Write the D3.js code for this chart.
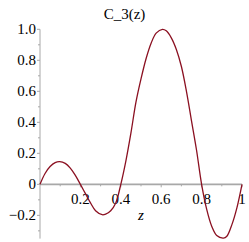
<!DOCTYPE html>
<html><head><meta charset="utf-8">
<script src="https://cdn.jsdelivr.net/npm/d3@7"></script>
<style>html,body{margin:0;padding:0;background:#fff;overflow:hidden}</style>
</head><body>
<svg id="c" width="249" height="242"></svg>
<script>
const titleText = "C_3(z)";
const xLabel = "z";
const zValues = [0,0.025,0.05,0.075,0.0975,0.125,0.15,0.175,0.2,0.225,0.25,0.275,0.308,0.325,0.35,0.375,0.4,0.425,0.45,0.475,0.5,0.525,0.55,0.575,0.606,0.625,0.65,0.675,0.7,0.725,0.75,0.775,0.8,0.825,0.85,0.875,0.908,0.925,0.95,0.975,1];
const cValues = [0,0.07,0.115,0.14,0.146,0.135,0.105,0.058,0,-0.06,-0.12,-0.17,-0.196,-0.192,-0.17,-0.12,0,0.15,0.33,0.53,0.68,0.81,0.91,0.975,1.0,0.99,0.945,0.87,0.76,0.6,0.41,0.22,0,-0.16,-0.27,-0.33,-0.347,-0.335,-0.26,-0.15,0];
const xMajorTicks = [0.2,0.4,0.6,0.8,1];
const xTickLabels = ["0.2","0.4","0.6","0.8","1"];
const xMinorTicks = [0.1,0.3,0.5,0.7,0.9];
const yMajorTicks = [-0.2,0,0.2,0.4,0.6,0.8,1.0];
const yTickLabels = ["\u22120.2","0","0.2","0.4","0.6","0.8","1.0"];
const yMinorTicks = [-0.3,-0.1,0.1,0.3,0.5,0.7,0.9];

const svg = d3.select("#c");
const x = d3.scaleLinear().domain([0,1]).range([40,242]);
const y = d3.scaleLinear().domain([-0.35,1]).range([238.6,29.3]);
const fs = 15;
const ff = "Liberation Serif";
const axisColor = "#a8a8a8";

svg.append("text").attr("x",124.5).attr("y",19).attr("text-anchor","middle")
  .attr("font-family",ff).attr("font-size",fs).attr("fill","#000").text(titleText);

svg.append("line").attr("x1",x(0)).attr("x2",x(0)).attr("y1",y(1)).attr("y2",y(-0.35))
  .attr("stroke",axisColor).attr("stroke-width",1);
yMajorTicks.forEach((v,i)=>{
  svg.append("line").attr("x1",x(0)-3).attr("x2",x(0)).attr("y1",y(v)).attr("y2",y(v))
    .attr("stroke",axisColor).attr("stroke-width",1);
  svg.append("text").attr("x",x(0)-4).attr("y",y(v)).attr("dy","0.33em")
    .attr("text-anchor","end").attr("font-family",ff).attr("font-size",fs)
    .attr("fill","#000").text(yTickLabels[i]);
});
yMinorTicks.forEach(v=>{
  svg.append("line").attr("x1",x(0)-2).attr("x2",x(0)).attr("y1",y(v)).attr("y2",y(v))
    .attr("stroke",axisColor).attr("stroke-width",1);
});

svg.append("line").attr("x1",x(0)).attr("x2",x(1)).attr("y1",y(0)).attr("y2",y(0))
  .attr("stroke",axisColor).attr("stroke-width",1.6);
xMinorTicks.forEach(v=>{
  svg.append("line").attr("x1",x(v)).attr("x2",x(v)).attr("y1",y(0)).attr("y2",y(0)+2)
    .attr("stroke",axisColor).attr("stroke-width",1);
});
xMajorTicks.forEach((v,i)=>{
  svg.append("line").attr("x1",x(v)).attr("x2",x(v)).attr("y1",y(0)).attr("y2",y(0)+3)
    .attr("stroke",axisColor).attr("stroke-width",1);
  svg.append("text").attr("x",x(v)).attr("y",y(0)+20)
    .attr("text-anchor","middle").attr("font-family",ff).attr("font-size",fs)
    .attr("fill","#000").text(xTickLabels[i]);
});
svg.append("text").attr("x",x(0.5)).attr("y",y(0)+36).attr("text-anchor","middle")
  .attr("font-family",ff).attr("font-style","italic").attr("font-size",fs)
  .attr("fill","#000").text(xLabel);

const pts = zValues.map((z,i)=>[z,cValues[i]]);
svg.append("path").datum(pts)
  .attr("d",d3.line().x(d=>x(d[0])).y(d=>y(d[1])).curve(d3.curveCatmullRom.alpha(0.5)))
  .attr("fill","none").attr("stroke","#8b1021").attr("stroke-width",1.3);
</script>
</body></html>
